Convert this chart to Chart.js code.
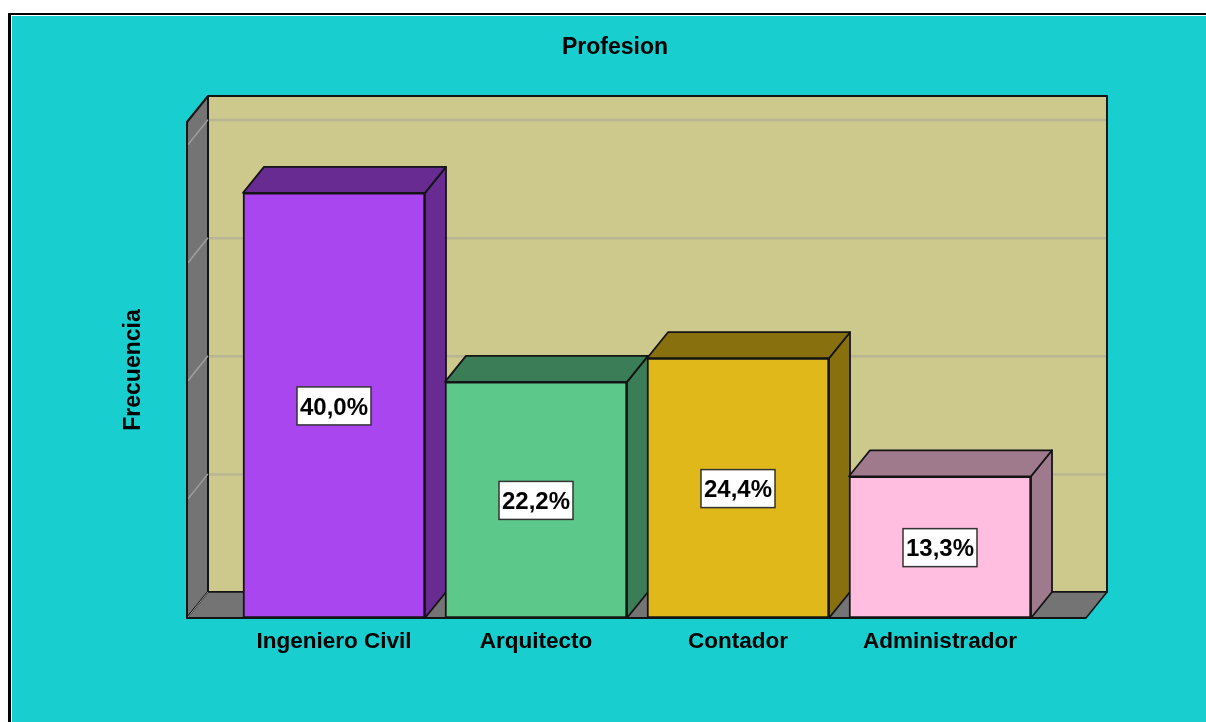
<!DOCTYPE html>
<html>
<head>
<meta charset="utf-8">
<style>
html,body{margin:0;padding:0;background:#fff;overflow:hidden;width:1206px;height:722px}
#frame{position:absolute;left:8px;top:13px;width:1300px;height:800px;border:3px solid #000;border-width:2.5px 3px;box-sizing:border-box;background:#fff}
canvas{position:absolute;left:12px;top:16px}
</style>
<script src="https://cdn.jsdelivr.net/npm/chart.js@4"></script>
</head>
<body>
<div id="frame"></div>
<canvas id="c" width="1206" height="706"></canvas>
<script>
const categories = ["Ingeniero Civil","Arquitecto","Contador","Administrador"];
const frequencies = [18,10,11,6];
const percentLabels = ["40,0%","22,2%","24,4%","13,3%"];
const frontColors = ["#A946F0","#5CC98B","#E0B81A","#FFBDDF"];
const shadeColors = ["#672B91","#3A7D56","#88700F","#9E7A8C"];

const FONT = "'Liberation Sans', Arial, sans-serif";
const DX = 21, DY = -26, EXT_L = 46, EXT_R = 45;
const EDGE = "#141414";

function poly(ctx, pts, fill, stroke, lw){
  ctx.beginPath();
  pts.forEach((p,i)=> i ? ctx.lineTo(p[0],p[1]) : ctx.moveTo(p[0],p[1]));
  ctx.closePath();
  if(fill){ctx.fillStyle=fill;ctx.fill();}
  if(stroke){ctx.strokeStyle=stroke;ctx.lineWidth=lw||1.5;ctx.lineJoin="round";ctx.stroke();}
}

const bars3d = {
  id:"bars3d",
  beforeDatasetsDraw(chart){
    const {ctx, chartArea:a, scales:{y}} = chart;
    const L=a.left-EXT_L, R=a.right+EXT_R, T=a.top, B=a.bottom;
    ctx.save();
    poly(ctx,[[L+DX,T+DY],[R+DX,T+DY],[R+DX,B+DY],[L+DX,B+DY]],"#CDC98D",EDGE,2);
    poly(ctx,[[L,T],[L+DX,T+DY],[L+DX,B+DY],[L,B]],"#747474",EDGE,2);
    poly(ctx,[[L,B],[L+DX,B+DY],[R+DX,B+DY],[R,B]],"#747474",EDGE,1.5);
    y.ticks.filter(t=>t.value%5===0).forEach(t=>{
      const py=y.getPixelForValue(t.value);
      if(t.value===0){
        ctx.strokeStyle="#9A9A9A";ctx.lineWidth=1;
        ctx.beginPath();ctx.moveTo(L+1,py-1);ctx.lineTo(L+DX,py+DY);ctx.stroke();
        return;
      }
      ctx.strokeStyle="#B8B494";ctx.lineWidth=2.5;
      ctx.beginPath();ctx.moveTo(L+DX+1,py+DY+0.5);ctx.lineTo(R+DX-1,py+DY+0.5);ctx.stroke();
      ctx.strokeStyle="#A0A0A0";ctx.lineWidth=1.5;
      ctx.beginPath();ctx.moveTo(L+1,py-1);ctx.lineTo(L+DX,py+DY);ctx.stroke();
    });
    ctx.strokeStyle=EDGE;ctx.lineWidth=2;
    ctx.beginPath();ctx.moveTo(L,B);ctx.lineTo(L,T);ctx.stroke();
    chart.getDatasetMeta(0).data.forEach((b,i)=>{
      const l=b.x-b.width/2, r=b.x+b.width/2, t=b.y, bt=b.base;
      poly(ctx,[[r,bt],[r,t],[r+DX,t+DY],[r+DX,bt+DY]],shadeColors[i],EDGE,1.8);
      poly(ctx,[[l,t],[l+DX,t+DY],[r+DX,t+DY],[r,t]],shadeColors[i],EDGE,1.8);
    });
    ctx.restore();
  },
  afterDatasetsDraw(chart){
    const {ctx, chartArea:a} = chart;
    ctx.save();
    ctx.strokeStyle=EDGE;ctx.lineWidth=2;
    ctx.beginPath();ctx.moveTo(a.left-EXT_L,a.bottom);ctx.lineTo(a.right+EXT_R,a.bottom);ctx.stroke();
    ctx.font="bold 24px "+FONT;
    ctx.textAlign="center";ctx.textBaseline="middle";
    chart.getDatasetMeta(0).data.forEach((b,i)=>{
      const cy=(b.y+b.base)/2+0.5, w=74, h=38;
      ctx.fillStyle="#fff";ctx.fillRect(b.x-w/2,cy-h/2,w,h);
      ctx.strokeStyle="#333";ctx.lineWidth=1.5;ctx.strokeRect(b.x-w/2,cy-h/2,w,h);
      ctx.fillStyle="#000";ctx.fillText(percentLabels[i],b.x,cy+2);
    });
    ctx.restore();
  }
};

new Chart(document.getElementById("c"),{
  type:"bar",
  data:{labels:categories,datasets:[{
    data:frequencies,
    backgroundColor:frontColors,
    borderColor:EDGE,
    borderWidth:2,
    borderSkipped:false,
    barThickness:182
  }]},
  options:{
    responsive:false,
    animation:false,
    layout:{padding:0},
    plugins:{
      legend:{display:false},
      tooltip:{enabled:false},
      title:{display:true,text:"Profesion",color:"#000",
        font:{family:FONT,size:23,weight:"bold",lineHeight:1.2},
        padding:{top:18,bottom:60.4}}
    },
    scales:{
      x:{
        grid:{display:false,drawTicks:false},
        border:{display:false},
        ticks:{color:"#000",font:{family:FONT,size:22.5,weight:"bold"},padding:10,maxRotation:0,autoSkip:false},
        afterFit(s){s.height=104;}
      },
      y:{
        min:0,max:21,
        grid:{display:false,drawTicks:false},
        border:{display:false},
        ticks:{display:false,stepSize:5},
        title:{display:true,text:"Frecuencia",color:"#000",
          font:{family:FONT,size:23,weight:"bold",lineHeight:1.2},
          padding:{top:108,bottom:0}},
        afterFit(s){s.width=221;}
      },
      rightGap:{
        position:"right",
        grid:{display:false,drawTicks:false},
        border:{display:false},
        ticks:{display:false},
        afterFit(s){s.width=177;}
      }
    }
  },
  plugins:[
    {id:"bg",beforeDraw(c){const x=c.ctx;x.save();x.fillStyle="#19CECE";x.fillRect(0,0,c.width,c.height);x.restore();}},
    bars3d
  ]
});
</script>
</body>
</html>
